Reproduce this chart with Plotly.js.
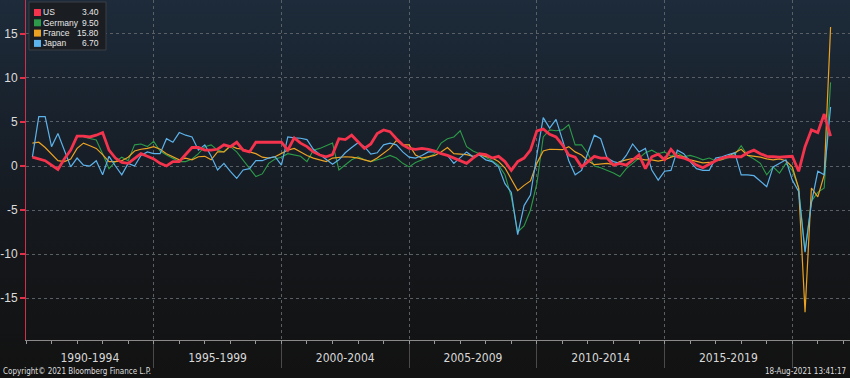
<!DOCTYPE html>
<html><head><meta charset="utf-8">
<script src="https://cdn.plot.ly/plotly-3.0.1.min.js"></script>
<style>
html,body{margin:0;padding:0;width:850px;height:378px;overflow:hidden;}
body{background:linear-gradient(to bottom,#1d2b3a 0%,#18202a 35%,#141619 70%,#121212 100%);}
#chart{width:850px;height:378px;}
</style></head><body><div id="chart"></div>
<script>
// ---- data ----
const startYear = 1990;
const endYear = 2021;
const endQuarter = 2;
const seriesNames = ['US', 'Germany', 'France', 'Japan'];
const periodLabels = ['1990-1994','1995-1999','2000-2004','2005-2009','2010-2014','2015-2019'];
const periodCenters = [1992.5, 1997.5, 2002.5, 2007.5, 2012.5, 2017.5];
const periodSeparators = [1995, 2000, 2005, 2010, 2015, 2020];
const yTicks = [-15, -10, -5, 0, 5, 10, 15];

const usValues = [
 1.0,0.8,0.6,0.1,-0.4,0.8,1.8,3.4,3.4,3.3,3.5,3.8,1.8,0.9,0.4,0.3,0.9,1.4,1.1,0.8,
 0.3,0.0,0.5,0.5,1.3,2.1,2.1,1.8,1.8,1.9,2.4,2.2,2.7,1.8,1.6,2.7,2.7,2.7,2.7,2.7,
 1.8,3.2,2.6,2.2,1.6,1.25,1.05,1.3,3.1,3.0,3.5,2.7,2.0,2.5,3.7,4.1,3.9,3.1,2.4,2.0,
 1.9,2.0,1.9,1.7,1.4,1.2,0.9,0.6,0.3,0.9,1.4,1.3,0.9,1.1,0.5,-0.5,0.5,0.9,1.8,4.0,
 4.2,3.6,3.3,2.4,1.25,1.0,-0.1,0.5,1.1,0.9,0.9,0.1,0.3,0.1,0.7,1.25,-0.3,1.05,1.35,0.7,
 1.9,1.05,0.9,0.6,0.1,-0.2,0.2,0.6,0.9,1.05,1.05,1.05,1.5,1.8,1.4,1.1,1.05,1.0,1.05,1.1,
 -0.6,2.2,4.1,3.8,5.9,3.4];
const germanyValues = [
 null,null,null,null,null,null,null,null,3.3,3.1,2.95,1.4,-0.3,0.5,1.0,0.6,2.4,2.5,2.2,2.8,
 1.7,1.25,0.9,0.5,0.5,0.8,1.4,2.2,2.4,1.8,1.6,2.2,1.6,0.7,-0.3,-1.2,-0.9,0.3,0.8,1.0,
 1.4,1.25,1.1,0.5,1.8,2.0,2.3,2.6,-0.45,0.1,0.7,1.05,0.7,0.5,0.7,0.9,1.2,0.9,0.3,-0.1,
 0.4,0.7,1.0,1.4,2.6,3.1,3.3,4.0,2.2,1.7,1.4,1.0,0.6,0.1,-1.0,-3.5,-7.5,-6.8,-5.0,-2.0,
 3.3,4.1,4.0,4.1,4.7,2.4,2.4,1.4,0.0,-0.2,-0.5,-0.8,-1.2,-0.3,0.3,0.9,1.5,1.8,1.4,1.6,
 1.1,1.5,1.05,1.2,1.0,0.7,0.9,0.6,0.7,0.95,1.3,2.3,1.2,0.8,0.3,-1.0,-0.1,-0.8,0.3,-0.5,
 -2.5,-9.7,-4.0,-3.0,-2.5,9.5];
const franceValues = [
 2.6,2.7,2.1,1.3,0.6,0.5,0.8,2.0,2.6,2.3,2.0,1.3,0.5,0.5,0.6,1.0,1.7,1.9,2.0,2.2,
 1.9,1.4,1.05,0.7,0.9,0.7,1.05,1.1,0.7,1.6,1.6,2.3,2.0,1.9,1.6,1.4,1.0,0.9,1.05,1.4,
 1.8,2.0,1.6,1.2,0.9,0.7,0.5,0.9,1.0,1.05,1.0,0.9,0.7,0.5,0.9,1.4,2.0,2.9,2.4,2.4,
 1.25,0.9,1.05,1.2,1.6,2.1,1.4,1.35,1.3,1.1,1.3,1.1,0.9,0.5,-0.2,-1.5,-2.8,-2.2,-1.7,0.3,
 1.7,1.9,1.85,1.85,2.2,1.6,1.25,0.6,0.15,0.2,0.3,0.15,0.5,0.7,0.85,0.8,0.7,0.7,0.55,0.7,
 1.0,1.2,1.05,0.7,0.5,0.35,0.4,0.6,0.75,1.1,1.5,1.9,1.2,1.1,1.0,0.8,0.7,0.8,0.6,-0.1,
 -2.5,-16.6,-2.5,-3.5,-1.0,15.8];
const japanValues = [
 1.0,5.6,5.6,2.2,3.7,1.8,-0.1,0.9,0.1,0.0,0.6,-1.0,1.1,0.0,-1.0,0.3,0.0,1.2,1.6,1.4,
 1.4,3.1,2.7,3.8,3.5,3.3,1.8,2.4,1.1,-0.45,0.3,-0.6,-1.4,-0.45,-0.3,0.6,0.6,0.9,1.05,0.1,
 3.3,3.2,3.15,3.0,1.9,1.3,0.8,0.2,0.7,1.5,2.1,2.65,2.2,1.35,1.5,2.4,2.6,2.4,1.6,1.0,
 0.9,1.2,1.6,1.6,1.4,1.2,0.3,1.0,1.6,1.05,1.25,0.7,0.5,-0.1,-2.0,-3.0,-7.8,-4.5,-3.3,1.25,
 5.5,4.3,5.3,3.0,0.6,-1.0,-0.5,1.5,3.5,3.1,0.9,0.5,0.3,1.2,2.5,1.6,2.0,-0.45,-1.6,-0.6,
 -0.5,1.8,1.4,0.5,-0.3,-0.5,-0.5,0.9,1.05,1.3,1.5,-1.0,-1.0,-1.1,-1.7,-2.35,-0.1,0.3,0.7,-1.6,
 -2.9,-9.8,-4.2,-0.6,-1.0,6.7];

// ---- styles ----
const colors = {US:'#f5334d', Germany:'#2c9a48', France:'#eba223', Japan:'#5cb2ea'};
const widths = {US:2.8, Germany:1.1, France:1.2, Japan:1.2};

// quarter-end positions
const quarterX = [];
for (let y = startYear; y <= endYear; y++) {
  for (let q = 1; q <= 4; q++) {
    if (y === endYear && q > endQuarter) break;
    quarterX.push(y + q / 4);
  }
}
const valuesByName = {US: usValues, Germany: germanyValues, France: franceValues, Japan: japanValues};
const drawOrder = ['Germany', 'France', 'Japan', 'US'];
const traces = drawOrder.map(n => ({
  type: 'scatter', mode: 'lines', name: n, x: quarterX, y: valuesByName[n],
  line: {color: colors[n], width: widths[n]}, hoverinfo: 'skip', showlegend: false
}));
// empty helper traces so the overlay axes are drawn
traces.push({type:'scatter', x:[], y:[], xaxis:'x2', yaxis:'y', showlegend:false, hoverinfo:'skip'});
traces.push({type:'scatter', x:[], y:[], xaxis:'x3', yaxis:'y', showlegend:false, hoverinfo:'skip'});

const W = 850, H = 378, ML = 26, MB = 38;
const PW = W - ML, PH = H - MB;
const px = v => (v - ML) / PW;
const py = v => 1 - v / PH;
const xRange = [1990, 2022.26];
const yRange = [-19.77, 18.86];

const narrow = 'Liberation Sans Narrow, DejaVu Sans Condensed, Liberation Sans, sans-serif';
const legendFont = 'Liberation Sans, Arial, sans-serif';
const shapes = [];
const annotations = [];
// legend box
shapes.push({type:'rect', xref:'paper', yref:'paper', x0:px(29), x1:px(106), y0:py(2), y1:py(50),
  fillcolor:'#1a1d22', line:{color:'#3a3e45', width:1}, layer:'above'});
seriesNames.forEach((n, k) => {
  const cy = 12.5 + k * 10.3;
  shapes.push({type:'rect', xref:'paper', yref:'paper', x0:px(34), x1:px(41), y0:py(cy+3.5), y1:py(cy-3.5),
    fillcolor: colors[n], line:{width:0}, layer:'above'});
  const vals = valuesByName[n];
  annotations.push({xref:'paper', yref:'paper', x:px(42), y:py(cy), xanchor:'left', yanchor:'middle',
    text:n, showarrow:false, borderpad:0, font:{family:legendFont, size:8.5, color:'#e6e6e6'}});
  annotations.push({xref:'paper', yref:'paper', x:px(100), y:py(cy), xanchor:'right', yanchor:'middle',
    text:vals[vals.length-1].toFixed(2), showarrow:false, borderpad:0, font:{family:legendFont, size:8.5, color:'#e6e6e6'}});
});
annotations.push({xref:'paper', yref:'paper', x:0, y:0, xshift:-25, yshift:-31, xanchor:'left', yanchor:'middle',
  text:'Copyright© 2021 Bloomberg Finance L.P.', showarrow:false,
  font:{family:narrow, size:8, color:'#dddddd'}});
annotations.push({xref:'paper', yref:'paper', x:1, y:0, xshift:-2, yshift:-31, xanchor:'right', yanchor:'middle',
  text:'18-Aug-2021 13:41:17', showarrow:false,
  font:{family:narrow, size:8, color:'#dddddd'}});

const labelFont = {family:narrow, size:12, color:'#d8d8d8'};
const layout = {
  width: W, height: H,
  margin: {l: ML, r: 0, t: 0, b: MB, pad: 0},
  paper_bgcolor: 'rgba(0,0,0,0)', plot_bgcolor: 'rgba(0,0,0,0)',
  showlegend: false,
  xaxis: {range: xRange, tickmode:'array', tickvals: periodCenters, ticktext: periodLabels,
    ticks:'', showgrid:false, zeroline:false, showline:true, linecolor:'#8a8a8a', linewidth:1,
    tickfont: labelFont, ticklabelstandoff: 7, fixedrange:true},
  xaxis2: {range: xRange, overlaying:'x', anchor:'y', side:'bottom', tickmode:'array', tickvals: periodSeparators,
    ticks:'outside', ticklen:27, tickwidth:1, tickcolor:'#4a4a4a', showticklabels:false,
    showgrid:true, gridcolor:'#5a5f66', griddash:'dot', gridwidth:1, zeroline:false, showline:false, fixedrange:true},
  xaxis3: {range: xRange, overlaying:'x', anchor:'y', side:'bottom', tickmode:'linear', tick0:1990, dtick:1,
    ticks:'outside', ticklen:3, tickwidth:1, tickcolor:'#9a9a9a', showticklabels:false,
    showgrid:false, zeroline:false, showline:false, fixedrange:true},
  yaxis: {range: yRange, tickmode:'array', tickvals: yTicks, ticktext: yTicks.map(String),
    ticks:'outside', ticklen:5, tickwidth:1.5, tickcolor:'#e0304a',
    showline:true, linecolor:'#d2304a', linewidth:1, showgrid:true, gridcolor:'#5a5f66', griddash:'dot', gridwidth:1,
    zeroline:false, tickfont:{family:'Liberation Sans, Arial, sans-serif', size:12, color:'#dcdcdc'}, fixedrange:true},
  shapes: shapes,
  annotations: annotations
};
Plotly.newPlot('chart', traces, layout, {displayModeBar:false, staticPlot:true});
</script></body></html>
